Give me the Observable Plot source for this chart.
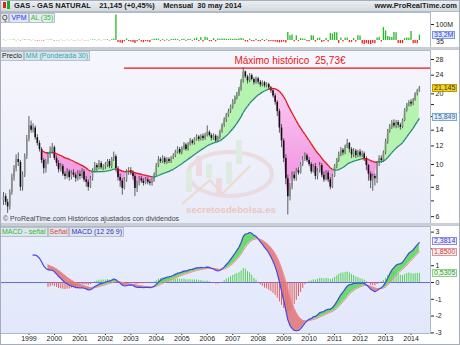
<!DOCTYPE html>
<html><head><meta charset="utf-8">
<script src="https://cdn.jsdelivr.net/npm/d3@7"></script>
<script src="https://cdn.jsdelivr.net/npm/@observablehq/plot@0.6"></script>
<style>
body{margin:0;background:#fff;font-family:"Liberation Sans",Arial,sans-serif;}
#wrap{position:relative;width:460px;height:345px;overflow:hidden;background:#fff;}
.abs{position:absolute;}
.tag{position:absolute;font-size:7px;line-height:6px;padding:0 1px;border:1px solid;box-sizing:border-box;height:8px;white-space:nowrap;}
.lbl{position:absolute;font-size:7px;line-height:8px;height:8px;white-space:nowrap;}
.lbl span{display:inline-block;padding:0 1px;border:1px solid #b8c0cc;background:#dfe5ec;margin-right:0;}
</style></head><body>
<svg width="0" height="0" style="position:absolute">
<defs>
<linearGradient id="bgPrice" x1="0" y1="0" x2="0" y2="1"><stop offset="0" stop-color="#f6f6fd"/><stop offset="1" stop-color="#e8ebf8"/></linearGradient>
<linearGradient id="bgMacd" x1="0" y1="0" x2="0" y2="1"><stop offset="0" stop-color="#eaeefc"/><stop offset="1" stop-color="#e2e8fb"/></linearGradient>
<linearGradient id="pinkFill" gradientUnits="userSpaceOnUse" x1="0" y1="20" x2="0" y2="170"><stop offset="0" stop-color="#fbd4f5"/><stop offset="1" stop-color="#ee7fdc"/></linearGradient>
</defs></svg>
<div id="wrap"></div>
<script>
// ---------- data (monthly, Jan 1998 .. May 2014) ----------
const firstMonth = [1998, 0];
const firstOpen = 7.0;
const closes = [
7.3,6.9,6.6,7.6,8.8,9.6,10.5,10.2,8.0,9.0,10.8,12.8,
14.6,14.0,14.3,13.0,12.3,11.6,10.4,9.6,10.2,10.9,11.4,11.8,
10.6,10.1,9.5,9.8,9.1,8.9,9.3,8.8,9.2,9.0,8.7,9.1,
8.9,9.3,8.6,8.4,8.0,8.7,9.4,9.9,9.7,10.1,9.7,9.8,
9.9,10.3,9.8,10.5,10.8,9.6,8.8,8.5,7.9,8.6,9.3,9.4,
9.2,8.9,7.9,8.3,8.7,8.5,8.3,8.6,8.4,8.3,8.5,9.0,
9.9,10.5,10.3,10.6,10.2,10.5,10.3,10.6,10.9,11.3,11.6,11.2,
11.7,12.1,11.6,12.2,12.6,12.3,12.8,13.1,12.8,13.2,12.9,13.3,
13.7,13.3,12.9,13.2,12.6,13.0,13.8,14.7,15.5,16.2,16.8,17.6,
18.4,19.2,19.8,20.9,22.6,24.8,23.6,22.7,23.9,23.0,22.3,23.2,
22.4,21.8,22.3,21.6,21.9,21.2,20.6,19.6,18.4,16.8,14.3,12.6,
10.6,8.7,7.3,8.0,9.0,8.7,9.4,9.2,10.0,10.5,10.9,10.4,
10.0,9.3,9.8,8.9,9.4,9.9,9.0,8.6,9.2,8.6,8.0,8.9,
9.8,10.4,11.0,11.5,11.2,11.9,12.3,11.6,11.0,11.4,10.9,11.3,
10.9,11.1,10.6,9.9,9.1,8.5,8.9,8.7,10.1,10.6,10.4,11.2,
12.5,13.8,14.4,15.0,14.6,15.1,14.7,14.4,15.4,17.0,17.9,18.4,
18.1,18.8,19.9,20.6,21.145];
const highs = [
7.6,7.5,7.1,7.8,9.1,9.9,11.0,11.2,10.4,9.3,11.1,13.3,
16.0,15.3,14.9,14.6,13.4,12.6,11.8,10.6,10.5,11.2,11.9,12.3,
12.0,10.9,10.4,10.1,10.0,9.3,9.6,9.5,9.4,9.5,9.2,9.4,
9.4,9.6,9.5,8.9,8.6,8.9,9.6,10.2,10.1,10.4,10.3,10.0,
10.2,10.5,10.5,10.7,11.3,11.0,9.8,9.1,8.7,8.8,9.5,9.7,
9.7,9.4,9.1,8.5,8.9,8.9,8.7,8.8,8.8,8.6,8.7,9.2,
10.1,10.8,10.7,10.9,10.8,10.7,10.7,10.8,11.1,11.5,11.9,11.8,
11.9,12.4,12.3,12.4,12.9,12.8,13.0,13.4,13.3,13.4,13.5,13.6,
14.6,13.9,13.5,13.5,13.4,13.2,14.0,14.9,15.8,16.5,17.2,17.9,
18.9,19.6,20.3,21.3,23.0,25.73,25.0,24.0,24.4,24.3,23.4,23.6,
23.5,22.8,22.7,22.6,22.3,22.2,21.5,20.9,20.0,18.7,17.2,14.8,
12.9,11.0,9.0,8.3,9.3,9.3,9.6,9.7,10.2,10.8,11.2,11.1,
10.7,10.2,10.0,10.1,9.6,10.2,10.1,9.3,9.4,9.4,8.8,9.1,
10.0,10.6,11.3,11.8,11.7,12.1,12.8,12.4,11.8,11.7,11.6,11.5,
11.6,11.4,11.3,10.8,10.0,9.3,9.1,9.1,10.3,10.9,10.9,11.4,
12.8,14.1,14.8,15.4,15.5,15.4,15.4,15.0,15.6,17.3,18.2,18.7,
18.9,19.1,20.2,20.9,21.5];
const lows = [
6.7,6.7,6.2,6.4,7.4,8.5,9.3,9.8,7.7,7.7,8.8,10.5,
12.5,13.6,13.6,12.7,12.0,11.3,10.1,9.1,9.2,10.0,10.6,11.1,
10.4,9.8,9.2,9.3,8.9,8.6,8.7,8.5,8.6,8.8,8.4,8.5,
8.6,8.7,8.4,8.0,7.7,7.9,8.5,9.2,9.3,9.5,9.5,9.4,
9.5,9.7,9.6,9.6,10.3,9.3,8.5,8.0,7.4,7.8,8.4,9.0,
9.0,8.6,7.3,7.6,8.1,8.3,8.1,8.2,8.2,8.1,8.1,8.4,
8.9,9.7,10.1,10.1,10.0,10.0,10.1,10.1,10.5,10.7,11.1,11.0,
11.0,11.5,11.4,11.4,12.0,12.1,12.1,12.6,12.5,12.6,12.6,12.7,
13.1,13.1,12.6,12.7,12.3,12.4,12.8,13.6,14.4,15.1,15.9,16.5,
17.2,18.0,18.8,19.5,20.5,22.2,23.2,22.0,22.3,22.7,21.8,22.0,
21.9,21.3,21.4,21.2,21.2,20.7,20.1,19.2,17.9,16.0,13.6,11.8,
10.2,8.2,6.1,7.0,7.8,8.5,8.5,9.0,9.1,9.8,10.3,10.2,
9.8,9.1,9.2,8.6,8.6,9.2,8.8,8.4,8.5,8.4,7.8,7.9,
8.8,9.6,10.2,10.8,10.9,11.0,11.7,11.2,10.6,10.7,10.6,10.7,
10.7,10.7,10.3,9.4,8.5,7.9,7.7,8.1,8.3,9.8,10.1,10.2,
11.0,12.2,13.6,14.1,14.3,14.2,14.3,14.0,14.2,15.2,16.7,17.6,
17.6,17.8,18.6,19.6,20.3];
// VPM (millions, signed)
const volumes = [
2,-2,1,2,2,3,-2,2,-3,2,3,2,
3,-2,2,-2,-3,-2,-2,-3,2,2,3,2,
-3,-2,-2,2,-2,-2,2,-2,2,-2,-2,2,
-2,2,-2,-2,-2,2,3,3,-2,3,-2,2,
3,4,-3,5,8,160,-12,-15,-19,-8,10,-6,
-10,-12,-18,-8,6,-10,-14,-6,-10,-12,5,8,
10,8,-5,6,-4,5,-4,6,7,8,6,-4,
6,8,-5,7,8,-4,10,15,-6,18,-10,20,
15,-6,-8,12,-8,10,8,10,10,8,6,8,
6,8,6,10,12,10,-8,-10,8,-6,-8,8,
-6,-8,6,-6,5,-8,-6,-8,-10,-12,-15,-12,
-10,-15,50,30,35,-8,30,-6,12,10,8,-6,
-8,30,28,-10,12,14,-12,-8,12,-10,44,40,
50,48,-19,16,-10,14,16,-14,-12,12,-10,30,
28,-22,-25,-20,-24,-25,-18,-20,15,20,-10,81,
60,25,20,18,50,48,-19,-20,-20,12,15,14,
56,-20,-18,-20,33.2];
const yearTicks = [1999,2000,2001,2002,2003,2004,2005,2006,2007,2008,2009,2010,2011,2012,2013,2014];
const priceTicks = [6,7,8,9,10,12,14,16,18,20,24,28];
const priceTickLabels = [6,8,10,12,14,20,24,28];
const macdTicks = [-3,-2,-1,0,1,2,3];
const macdTickLabels = [-3,-2,-1,0,1,3];
const volTicks = [100];
const recordHigh = 25.73;
const recordFrom = [2002, 9];
const recordText = "Máximo histórico  25,73€";
const recordTextAt = [2009, 3];
const lastClose = 21.145, lastMA = 15.849;
const lastVol = 33.2;
const lastMacd = 2.3814, lastSignal = 1.8500, lastHist = 0.5305;
const maLen = 30, maStart = 18;
const macdFast = 12, macdSlow = 26, macdSig = 9, macdStart = 14, sigStart = 21;

// ---------- derived ----------
const dates = closes.map((c, i) => new Date(Date.UTC(firstMonth[0], firstMonth[1] + i, 1)));
const rows = closes.map((c, i) => ({date: dates[i], open: i === 0 ? firstOpen : closes[i - 1], high: highs[i], low: lows[i], close: c, vol: volumes[i]}));
const ma = closes.map((c, i) => {
  if (i < maStart) return NaN;
  const s = Math.max(0, i - maLen + 1); let num = 0, den = 0;
  for (let j = s; j <= i; j++) { const w = j - s + 1; num += w * closes[j]; den += w; }
  return num / den;
});
function ema(arr, n) { const a = 2 / (n + 1); let e; return arr.map((v, i) => (e = i === 0 ? v : a * v + (1 - a) * e)); }
const e1 = ema(closes, macdFast), e2 = ema(closes, macdSlow);
const macd = closes.map((c, i) => e1[i] - e2[i]);
const signal = ema(macd, macdSig);
const maRows = rows.map((r, i) => ({date: r.date, ma: ma[i], up: Math.max(r.close, ma[i]), dn: Math.min(r.close, ma[i])})).filter((r, i) => i >= maStart);
const maSegs = [];
for (let i = maStart; i < closes.length - 1; i++) maSegs.push({x1: dates[i], y1: ma[i], x2: dates[i + 1], y2: ma[i + 1], bull: closes[i + 1] >= ma[i + 1]});
const macdRows = rows.map((r, i) => ({date: r.date, m: macd[i], s: signal[i], h: macd[i] - signal[i], up: Math.max(macd[i], signal[i]), dn: Math.min(macd[i], signal[i]), i}));
const macdLine = macdRows.filter(r => r.i >= macdStart);
const sigRows = macdRows.filter(r => r.i >= sigStart);

const px0 = 3, pxPerYear = 25.47;
const xDomain = [new Date(Date.UTC(1998, 0, 1) - px0 / pxPerYear * 365.25 * 864e5), new Date(Date.UTC(1998, 0, 1) + (430 - px0) / pxPerYear * 365.25 * 864e5)];
const yearDates = yearTicks.map(y => new Date(Date.UTC(y, 0, 1)));
const W = 460, MR = 30;
const baseStyle = {fontFamily: "Liberation Sans, Arial, sans-serif", fontSize: "7px", background: "transparent", overflow: "visible", color: "#222"};

const wrap = document.getElementById("wrap");
function place(el, top) { el.style.position = "absolute"; el.style.left = "0px"; el.style.top = top + "px"; wrap.appendChild(el); return el; }
function div(cls, css, html) { const d = document.createElement("div"); if (cls) d.className = cls; Object.assign(d.style, css); d.innerHTML = html || ""; wrap.appendChild(d); return d; }

// header
div("abs", {left: "0px", top: "0px", width: "460px", height: "11px", background: "linear-gradient(#eef1f5,#d3d9e0)", borderBottom: "1px solid #b4bcc6"});
div("abs", {left: "3px", top: "2px", width: "3px", height: "6px", background: "#d22"});
div("abs", {left: "7px", top: "1px", width: "3px", height: "8px", background: "#2a2"});
div("abs", {left: "14px", top: "1px", fontSize: "7.5px", fontWeight: "bold", color: "#222", whiteSpace: "pre", lineHeight: "9px"}, "GAS - GAS NATURAL    21,145 (+0,45%)    Mensual  30 may 2014");
div("abs", {right: "3px", top: "1px", fontSize: "7.5px", fontWeight: "bold", color: "#222", lineHeight: "9px"}, "www.ProRealTime.com");

// volume panel
const VTOP = 12, VH = 35;
const volPlot = Plot.plot({
  width: W, height: VH, marginLeft: 0, marginRight: MR, marginTop: 0, marginBottom: 0, style: baseStyle,
  x: {type: "utc", domain: xDomain, axis: null},
  y: {domain: [-(VH - 28) * 6.25, 28 * 6.25], axis: "right", ticks: volTicks, tickFormat: d => d + "M", tickSize: 3, tickPadding: 2, label: null},
  marks: [
    Plot.frame({fill: "#ffffff", stroke: "#b0b8c4"}),
    Plot.ruleX(rows, {x: "date", y1: 0, y2: "vol", stroke: d => d.vol >= 0 ? "#22bb22" : "#ee2222", strokeWidth: 1.3})
  ]
});
place(volPlot, VTOP);
div("abs", {left: "0px", top: (VTOP + 35) + "px", width: "460px", height: "3px", background: "#c9ced6"});

// price panel
const PTOP = 50, PH = 173;
const pricePlot = Plot.plot({
  width: W, height: PH, marginLeft: 0, marginRight: MR, marginTop: 0, marginBottom: 0, style: baseStyle,
  x: {type: "utc", domain: xDomain, axis: null},
  y: {type: "log", domain: [5.61, 30.58], axis: "right", ticks: priceTicks, tickFormat: d => priceTickLabels.includes(d) ? String(d) : "", tickSize: 3, tickPadding: 2, label: null},
  marks: [
    Plot.frame({fill: "url(#bgPrice)", stroke: "#b0b8c4"}),
    Plot.areaY(maRows, {x: "date", y1: "ma", y2: "up", fill: "#b6f2b0"}),
    Plot.areaY(maRows, {x: "date", y1: "dn", y2: "ma", fill: "url(#pinkFill)"}),
    Plot.ruleY([{y: recordHigh, x1: new Date(Date.UTC(recordFrom[0], recordFrom[1], 1)), x2: xDomain[1]}], {y: "y", x1: "x1", x2: "x2", stroke: "#ee1111", strokeWidth: 1.3}),
    Plot.text([{x: new Date(Date.UTC(recordTextAt[0], recordTextAt[1], 1)), y: recordHigh, t: recordText}], {x: "x", y: "y", text: "t", fill: "#ee1111", fontSize: 10, dy: -7, textAnchor: "middle"}),
    Plot.ruleX(rows, {x: "date", y1: "low", y2: "high", stroke: "#3a3a3a", strokeWidth: 0.8}),
    Plot.ruleX(rows, {x: "date", y1: "open", y2: "close", stroke: d => d.close >= d.open ? "#8c8c8c" : "#111111", strokeWidth: 1.6}),
    Plot.link(maSegs, {x1: "x1", y1: "y1", x2: "x2", y2: "y2", stroke: d => d.bull ? "#1d8a70" : "#e21515", strokeWidth: 1.3})
  ]
});
place(pricePlot, PTOP);
div("abs", {left: "0px", top: (PTOP + PH) + "px", width: "460px", height: "3px", background: "#c9ced6"});

// watermark (decorative logo)
const wm = document.createElementNS("http://www.w3.org/2000/svg", "svg");
wm.setAttribute("width", "120"); wm.setAttribute("height", "90");
wm.style.position = "absolute"; wm.style.left = "172px"; wm.style.top = "122px"; wm.style.opacity = "0.45";
wm.innerHTML = '<ellipse cx="58" cy="52" rx="42" ry="22" fill="none" stroke="#e6c8c2" stroke-width="4"/>'
 + '<rect x="14" y="48" width="6" height="22" fill="#cfe8c4"/><rect x="24" y="34" width="6" height="20" fill="#efc4c4"/>'
 + '<rect x="34" y="42" width="6" height="14" fill="#cfe8c4"/><rect x="44" y="56" width="6" height="16" fill="#efc4c4"/>'
 + '<rect x="54" y="40" width="6" height="22" fill="#cfe8c4"/><rect x="64" y="18" width="6" height="24" fill="#cfe8c4"/>'
 + '<path d="M10 82 L38 58 L50 72 L78 44" fill="none" stroke="#f2c39a" stroke-width="2"/>';
wrap.appendChild(wm);
div("abs", {left: "186px", top: "204px", fontSize: "9.5px", fontWeight: "bold", color: "#ecc7c2", letterSpacing: "0.1px"}, "secretosdebolsa.es");
div("abs", {left: "3px", top: "215px", fontSize: "7px", color: "#444", whiteSpace: "nowrap"}, "© ProRealTime.com Históricos ajustados con dividendos");

// MACD panel
const MTOP = 226, MH = 119, MB = 12;
const y0px = 282 - MTOP, pxU = 16.8;
const macdPlot = Plot.plot({
  width: W, height: MH, marginLeft: 0, marginRight: MR, marginTop: 0, marginBottom: MB, style: baseStyle,
  x: {type: "utc", domain: xDomain, ticks: yearDates, tickFormat: d3.utcFormat("%Y"), tickSize: 2, tickPadding: 1, label: null},
  y: {domain: [-(MH - MB - y0px) / pxU, y0px / pxU], axis: "right", ticks: macdTicks, tickFormat: d => macdTickLabels.includes(d) ? String(d) : "", tickSize: 3, tickPadding: 2, label: null},
  marks: [
    Plot.frame({fill: "url(#bgMacd)", stroke: "#b0b8c4"}),
    Plot.ruleY([0], {stroke: "#6a6af0", strokeWidth: 1}),
    Plot.ruleX(sigRows, {x: "date", y1: 0, y2: "h", stroke: d => d.h >= 0 ? "#55d055" : "#e35b5b", strokeWidth: 1}),
    Plot.areaY(sigRows, {x: "date", y1: "s", y2: "up", fill: "#5ed85e", fillOpacity: 0.9}),
    Plot.areaY(sigRows, {x: "date", y1: "dn", y2: "s", fill: "#e07373", fillOpacity: 0.85}),
    Plot.line(sigRows, {x: "date", y: "s", stroke: "#f08a8a", strokeWidth: 1}),
    Plot.line(macdLine, {x: "date", y: "m", stroke: "#4a4ae0", strokeWidth: 1.2})
  ]
});
place(macdPlot, MTOP);

// panel labels
div("lbl", {left: "0px", top: (VTOP + 1) + "px"}, '<span style="color:#222">Q</span><span style="color:#2233dd;background:#dde6fb">VPM</span><span style="color:#33bb33;background:#e6eef0">AL (35)</span>');
div("lbl", {left: "0px", top: (PTOP + 1) + "px"}, '<span style="color:#222">Precio</span><span style="color:#3aa6a6;background:#d6e6ee">MM (Ponderada 30)</span>');
div("lbl", {left: "0px", top: (MTOP + 1) + "px"}, '<span style="color:#33bb33">MACD - señal</span><span style="color:#dd4444">Señal</span><span style="color:#3333cc">MACD (12 26 9)</span>');

// value tags positioned through the plots' scales
function tag(plot, top, v, text, css, shift) {
  const y = top + plot.scale("y").apply(v) + (shift || 0);
  div("tag", Object.assign({left: "432px", top: (y - 4) + "px"}, css), text);
}
const fmt = (v, d) => v.toFixed(d).replace(".", ",");
tag(volPlot, VTOP, lastVol, fmt(lastVol, 1) + "M", {background: "#dfe7fb", borderColor: "#7b95e6", color: "#2b45d8"});
div("abs", {left: "436px", top: (VTOP + volPlot.scale("y").apply(0) - 2) + "px", fontSize: "7px", lineHeight: "7px", color: "#222"}, "35");
tag(pricePlot, PTOP, lastClose, fmt(lastClose, 3), {background: "#f3d21a", borderColor: "#b89c00", color: "#333"});
tag(pricePlot, PTOP, lastMA, fmt(lastMA, 3), {background: "#e6f1fb", borderColor: "#7aa6d6", color: "#2a6a9a"});
tag(macdPlot, MTOP, lastMacd, fmt(lastMacd, 4), {background: "#eef0ff", borderColor: "#8a8ae6", color: "#3333cc"}, -1);
tag(macdPlot, MTOP, lastSignal, fmt(lastSignal, 4), {background: "#fff2f2", borderColor: "#e49494", color: "#cc3333"}, 1);
tag(macdPlot, MTOP, lastHist, fmt(lastHist, 4), {background: "#eefaee", borderColor: "#8ccc8c", color: "#2a9a2a"});

// outer border
div("abs", {left: "0px", top: "0px", width: "460px", height: "345px", boxSizing: "border-box", border: "1px solid #a4adb8", pointerEvents: "none"});
</script>
</body></html>
